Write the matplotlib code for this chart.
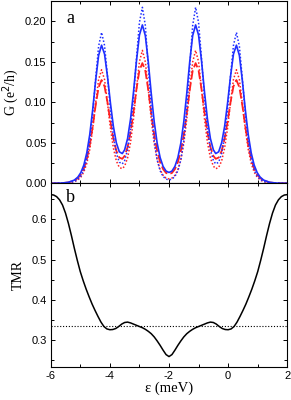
"""
Conductance G and TMR versus dot level energy (two-panel figure)
"""

import numpy as np
import matplotlib.pyplot as plt
from matplotlib.ticker import MultipleLocator

plt.rcParams['axes.unicode_minus'] = False
plt.rcParams['font.family'] = 'Liberation Sans'
plt.rcParams['xtick.direction'] = 'in'
plt.rcParams['ytick.direction'] = 'in'

# --- data ---
# energy grid for the conductance curves (meV)
eps_g = [-6.0, -5.8, -5.6, -5.4, -5.2, -5.08, -4.98, -4.88, -4.78, -4.68, -4.58,
         -4.48, -4.38, -4.28, -4.18, -4.08, -3.98, -3.88, -3.78, -3.68, -3.58,
         -3.5, -3.4, -3.3, -3.2, -3.1, -3.0, -2.9, -2.8, -2.7, -2.6, -2.5, -2.4,
         -2.3, -2.2, -2.1, -2.0,
         -1.9, -1.8, -1.7, -1.6, -1.5, -1.4, -1.3, -1.2, -1.1, -1.0, -0.9, -0.8,
         -0.7, -0.6, -0.5, -0.42, -0.32, -0.22, -0.12, -0.02, 0.08, 0.18, 0.28,
         0.38, 0.48, 0.58, 0.68, 0.78, 0.88, 0.98, 1.08, 1.2, 1.4, 1.6, 1.8, 2.0]

# blue solid
g_blue = [0.0001, 0.0002, 0.0005, 0.0014, 0.0041, 0.0078, 0.0134, 0.0226, 0.0375,
          0.0600, 0.0910, 0.1269, 0.1578, 0.1705, 0.1596, 0.1320, 0.0990, 0.0702,
          0.0500, 0.0390, 0.0368, 0.0414, 0.0553, 0.0794, 0.1128, 0.1510, 0.1829,
          0.1955, 0.1822, 0.1498, 0.1108, 0.0760, 0.0496, 0.0319, 0.0210, 0.0152,
          0.0135,
          0.0152, 0.0210, 0.0319, 0.0496, 0.0760, 0.1108, 0.1498, 0.1822, 0.1955,
          0.1829, 0.1510, 0.1128, 0.0794, 0.0553, 0.0414, 0.0368, 0.0390, 0.0500,
          0.0702, 0.0990, 0.1320, 0.1596, 0.1705, 0.1578, 0.1269, 0.0910, 0.0600,
          0.0375, 0.0226, 0.0134, 0.0078, 0.0041, 0.0014, 0.0005, 0.0002, 0.0001]

# blue dotted
g_blue_dot = [0.0000, 0.0001, 0.0002, 0.0007, 0.0024, 0.0050, 0.0091, 0.0167, 0.0300,
              0.0522, 0.0858, 0.1289, 0.1691, 0.1862, 0.1703, 0.1322, 0.0906, 0.0579,
              0.0369, 0.0262, 0.0240, 0.0282, 0.0417, 0.0668, 0.1054, 0.1540, 0.1985,
              0.2172, 0.1946, 0.1433, 0.0912, 0.0528, 0.0290, 0.0156, 0.0086, 0.0053,
              0.0043,
              0.0053, 0.0086, 0.0156, 0.0290, 0.0528, 0.0912, 0.1433, 0.1946, 0.2172,
              0.1985, 0.1540, 0.1054, 0.0668, 0.0417, 0.0282, 0.0240, 0.0262, 0.0369,
              0.0579, 0.0906, 0.1322, 0.1703, 0.1862, 0.1691, 0.1289, 0.0858, 0.0522,
              0.0300, 0.0167, 0.0091, 0.0050, 0.0024, 0.0007, 0.0002, 0.0001, 0.0000]

# red dashed
g_red = [0.0001, 0.0001, 0.0004, 0.0012, 0.0035, 0.0066, 0.0110, 0.0184, 0.0299,
         0.0470, 0.0701, 0.0963, 0.1185, 0.1275, 0.1198, 0.1001, 0.0762, 0.0551,
         0.0401, 0.0319, 0.0303, 0.0339, 0.0447, 0.0631, 0.0881, 0.1162, 0.1394,
         0.1484, 0.1388, 0.1152, 0.0864, 0.0602, 0.0400, 0.0262, 0.0176, 0.0129,
         0.0115,
         0.0129, 0.0176, 0.0262, 0.0400, 0.0602, 0.0864, 0.1152, 0.1388, 0.1484,
         0.1394, 0.1162, 0.0881, 0.0631, 0.0447, 0.0339, 0.0303, 0.0319, 0.0401,
         0.0551, 0.0762, 0.1001, 0.1198, 0.1275, 0.1185, 0.0963, 0.0701, 0.0470,
         0.0299, 0.0184, 0.0110, 0.0066, 0.0035, 0.0012, 0.0004, 0.0001, 0.0001]

# red dotted
g_red_dot = [0.0000, 0.0001, 0.0002, 0.0006, 0.0021, 0.0043, 0.0078, 0.0140, 0.0246,
             0.0418, 0.0673, 0.0990, 0.1280, 0.1402, 0.1282, 0.0995, 0.0682, 0.0436,
             0.0277, 0.0197, 0.0181, 0.0213, 0.0315, 0.0505, 0.0796, 0.1164, 0.1501,
             0.1641, 0.1498, 0.1160, 0.0789, 0.0492, 0.0291, 0.0169, 0.0100, 0.0066,
             0.0056,
             0.0066, 0.0100, 0.0169, 0.0291, 0.0492, 0.0789, 0.1160, 0.1498, 0.1641,
             0.1501, 0.1164, 0.0796, 0.0505, 0.0315, 0.0213, 0.0181, 0.0197, 0.0277,
             0.0436, 0.0682, 0.0995, 0.1282, 0.1402, 0.1280, 0.0990, 0.0673, 0.0418,
             0.0246, 0.0140, 0.0078, 0.0043, 0.0021, 0.0006, 0.0002, 0.0001, 0.0000]

# TMR on a 0.1 meV grid from -6 to 2
eps_tmr = np.round(np.linspace(-6, 2, 81), 2)
tmr = [0.662, 0.661, 0.657, 0.649, 0.636, 0.616, 0.590, 0.560, 0.528, 0.498,
       0.470, 0.447, 0.426, 0.407, 0.389, 0.373, 0.358, 0.344, 0.333, 0.327,
       0.325, 0.3255, 0.328, 0.333, 0.339, 0.343, 0.344, 0.342, 0.339, 0.336,
       0.333, 0.330, 0.326, 0.321, 0.315, 0.307, 0.297, 0.286, 0.274, 0.263,
       0.258,
       0.263, 0.274, 0.286, 0.297, 0.307, 0.315, 0.321, 0.326, 0.330, 0.333,
       0.336, 0.339, 0.342, 0.344, 0.343, 0.339, 0.333, 0.328, 0.3255, 0.325,
       0.327, 0.333, 0.344, 0.358, 0.373, 0.389, 0.407, 0.426, 0.447, 0.470,
       0.498, 0.528, 0.560, 0.590, 0.616, 0.636, 0.649, 0.657, 0.661, 0.662]
tmr_ref = 1.0 / 3.0

BLUE = '#1f2fff'
RED = '#ff2020'
SERIF = 'Liberation Serif'

fig = plt.figure(figsize=(2.91, 4.0), dpi=100)
ax1 = fig.add_axes([0.1742, 0.5415, 0.8131, 0.4560])
ax2 = fig.add_axes([0.1742, 0.0825, 0.8131, 0.4590], sharex=ax1)

# panel a
ax1.plot(eps_g, g_red_dot, color=RED, ls=(0, (1, 1.3)), lw=1.1)
ax1.plot(eps_g, g_red, color=RED, ls=(0, (5, 1.8)), lw=1.3)
ax1.plot(eps_g, g_blue_dot, color=BLUE, ls=(0, (1, 1.3)), lw=1.1)
ax1.plot(eps_g, g_blue, color=BLUE, ls='-', lw=1.2)
ax1.set_ylim(0, 0.225)
ax1.set_xlim(-6, 2)
ax1.yaxis.set_major_locator(MultipleLocator(0.05))
ax1.yaxis.set_minor_locator(MultipleLocator(0.025))
ax1.xaxis.set_major_locator(MultipleLocator(2))
ax1.xaxis.set_minor_locator(MultipleLocator(1))
ax1.yaxis.set_major_formatter(plt.FormatStrFormatter('%.2f'))
ax1.tick_params(labelbottom=False)
ax1.set_ylabel('G (e$^2$/h)', family=SERIF, fontsize=10)
ax1.yaxis.set_label_coords(-0.125, 0.5)
ax1.text(0.085, 0.905, 'a', transform=ax1.transAxes, family=SERIF,
         fontsize=13, ha='center', va='center')

# panel b
ax2.axhline(tmr_ref, color='black', ls=(0, (1, 1.6)), lw=0.8)
ax2.plot(eps_tmr, tmr, color='black', lw=1.1)
ax2.set_ylim(0.232, 0.69)
ax2.yaxis.set_major_locator(MultipleLocator(0.1))
ax2.yaxis.set_minor_locator(MultipleLocator(0.05))
ax2.yaxis.set_major_formatter(plt.FormatStrFormatter('%.1f'))
ax2.set_xticks([-6, -4, -2, 0, 2])
ax2.set_xticklabels(['-6', '-4', '-2', '0', '2'])
ax2.set_ylabel('TMR', family=SERIF, fontsize=10)
ax2.yaxis.set_label_coords(-0.108, 0.5)
ax2.set_xlabel('ε (meV)', family=SERIF, fontsize=10.5, labelpad=0)
ax2.text(0.082, 0.925, 'b', transform=ax2.transAxes, family=SERIF,
         fontsize=13, ha='center', va='center')

for ax in (ax1, ax2):
    ax.tick_params(which='both', top=True, right=True, labelsize=8, width=0.7)
    ax.tick_params(which='major', length=3, pad=3)
    ax.tick_params(which='minor', length=2)
    for sp in ax.spines.values():
        sp.set_linewidth(0.8)

fig.savefig('out.png', dpi=100)
